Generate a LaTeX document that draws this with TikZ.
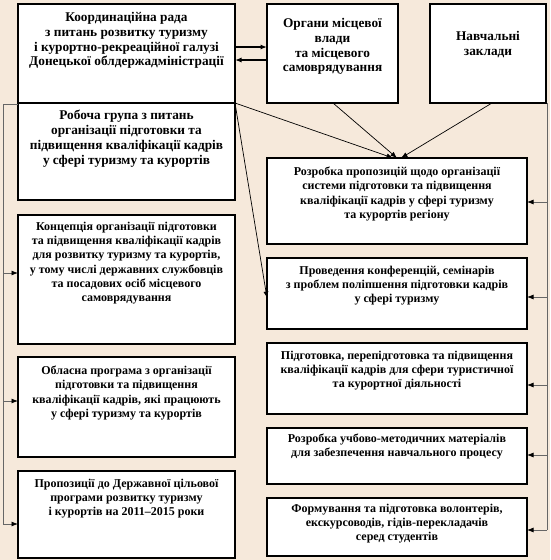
\documentclass[tikz,border=0pt]{standalone}
\usepackage{fontspec}
\setmainfont{Liberation Serif}
\usetikzlibrary{arrows.meta}
\definecolor{bgc}{RGB}{246,233,219}
\tikzset{
  boxst/.style={draw, line width=1.5pt, fill=white, anchor=north west, inner sep=0pt, outer sep=0pt},
  txt/.style={anchor=north, align=center, font=\fontsize{12}{14.2}\selectfont\bfseries, inner sep=0pt},
  txtbig/.style={anchor=north, align=center, font=\fontsize{13.3}{14.8}\selectfont\bfseries, inner sep=0pt},
  conn/.style={draw=black, line width=0.7pt, -{Latex[length=6.5pt,width=5pt]}},
  feed/.style={draw=black!60, line width=0.8pt},
  feedarr/.style={draw=black!60, line width=0.8pt, -{Latex[length=6.5pt,width=5pt,color=black]}},
}
\newcommand\bx[7]{%
  \node[boxst, minimum width=#4pt, minimum height=#5pt] (#1) at (#2,#3) {};
  \node[txt] (#1t) at ([yshift=-#6pt]#1.north) {#7};}
\newcommand\bxb[7]{%
  \node[boxst, minimum width=#4pt, minimum height=#5pt] (#1) at (#2,#3) {};
  \node[txtbig] (#1t) at ([yshift=-#6pt]#1.north) {#7};}
\begin{document}
\begin{tikzpicture}[x=1pt,y=-1pt]
\useasboundingbox (0,0) rectangle (550,560);
\fill[bgc] (0,0) rectangle (550,560);

\bxb{b1}{18}{4}{217}{99}{8}{Координаційна рада\\ з питань розвитку туризму\\ і курортно-рекреаційної галузі\\ Донецької облдержадміністрації}
\bxb{rg}{18}{103}{217}{97}{7}{Робоча група з питань\\ організації підготовки та\\ підвищення кваліфікації кадрів\\ у сфері туризму та курортів}
\bxb{og}{267}{4}{131}{99}{14}{Органи місцевої\\ влади\\ та місцевого\\ самоврядування}
\bxb{nz}{430}{4}{116}{99}{27}{Навчальні\\ заклади}
\bx{k1}{18}{215}{217}{129}{7}{Концепція організації підготовки\\ та підвищення кваліфікації кадрів\\ для розвитку туризму та курортів,\\ у тому числі державних службовців\\ та посадових осіб місцевого\\ самоврядування}
\bx{k2}{18}{357}{217}{100}{9}{Обласна програма з організації\\ підготовки та підвищення\\ кваліфікації кадрів, які працюють\\ у сфері туризму та курортів}
\bx{k3}{18}{471}{217}{87}{8}{Пропозиції до Державної цільової\\ програми розвитку туризму\\ і курортів на 2011–2015 роки}
\bx{r1}{267}{158}{260}{86}{9}{Розробка пропозицій щодо організації\\ системи підготовки та підвищення\\ кваліфікації кадрів у сфері туризму\\ та курортів регіону}
\bx{r2}{267}{258}{260}{71}{8}{Проведення конференцій, семінарів\\ з проблем поліпшення підготовки кадрів\\ у сфері туризму}
\bx{r3}{267}{343}{260}{71}{8}{Підготовка, перепідготовка та підвищення\\ кваліфікації кадрів для сфери туристичної\\ та курортної діяльності}
\bx{r4}{267}{428}{260}{56}{6}{Розробка учбово-методичних матеріалів\\ для забезпечення навчального процесу}
\bx{r5}{267}{498}{260}{58}{6}{Формування та підготовка волонтерів,\\ екскурсоводів, гідів-перекладачів\\ серед студентів}

% two-way link
\draw[conn, line width=1.2pt] ([yshift=-43pt]b1.north east) -- ([yshift=-43pt]og.north west);
\draw[conn, line width=1.2pt] ([yshift=-56pt]og.north west) -- ([yshift=-56pt]b1.north east);

% converging arrows
\draw[conn] (b1.south east) -- ([xshift=126pt]r1.north west);
\draw[conn] ([xshift=66pt]og.south west) -- ([xshift=130pt]r1.north west);
\draw[conn] ([xshift=62pt]nz.south west) -- ([xshift=134pt]r1.north west);
\draw[conn] (b1.south east) -- ([yshift=-40pt]r2.north west);

% left feed
\coordinate (lx) at (3,104);
\path ([yshift=-58pt]k1.north west) coordinate (k1a)
      ([yshift=-44pt]k2.north west) coordinate (k2a)
      ([yshift=-53pt]k3.north west) coordinate (k3a);
\draw[feed] ([yshift=-1pt]rg.north west) -- (lx) -- (lx |- k3a);
\draw[feedarr] (lx |- k1a) -- (k1a);
\draw[feedarr] (lx |- k2a) -- (k2a);
\draw[feedarr] (lx |- k3a) -- (k3a);

% right feed
\coordinate (rx) at ([xshift=1pt]nz.south east);
\path ([yshift=-44pt]r1.north east) coordinate (r1a)
      ([yshift=-39pt]r2.north east) coordinate (r2a)
      ([yshift=-42pt]r3.north east) coordinate (r3a)
      ([yshift=-27pt]r4.north east) coordinate (r4a)
      ([yshift=-32pt]r5.north east) coordinate (r5a);
\draw[feed] (rx) -- (rx |- r5a);
\draw[feedarr] (rx |- r1a) -- (r1a);
\draw[feedarr] (rx |- r2a) -- (r2a);
\draw[feedarr] (rx |- r3a) -- (r3a);
\draw[feedarr] (rx |- r4a) -- (r4a);
\draw[feedarr] (rx |- r5a) -- (r5a);
\end{tikzpicture}
\end{document}
